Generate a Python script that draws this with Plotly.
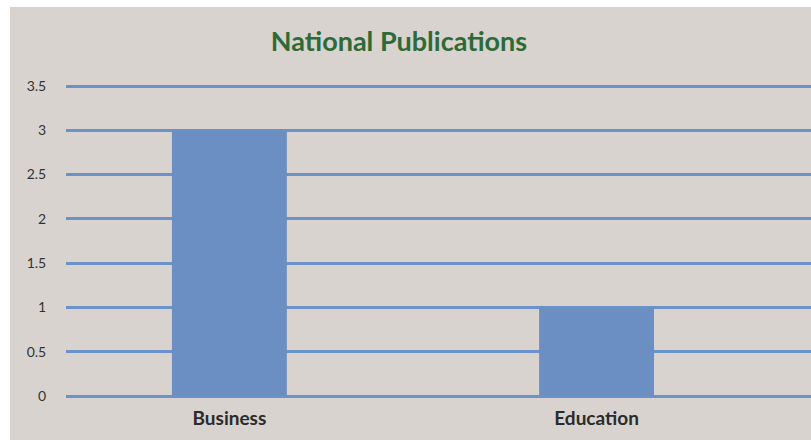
import plotly.graph_objects as go

categories = ["Business", "Education"]
values = [3, 1]
y_ticks = [0, 0.5, 1, 1.5, 2, 2.5, 3, 3.5]
y_tick_labels = ["0", "0.5", "1", "1.5", "2", "2.5", "3", "3.5"]

W, H = 811, 440
ML, MR, MT, MB = 66, 0, 82, 41
pw = W - ML - MR
ph = H - MT - MB

def px_x(p):
    return (p - ML) / pw

def px_y(p):
    return (H - MB - p) / ph

fig = go.Figure(
    go.Bar(
        x=categories,
        y=values,
        width=0.313,
        marker=dict(color="#6b8fc2", line=dict(width=0)),
        hoverinfo="x+y",
    )
)

fig.update_layout(
    width=W,
    height=H,
    margin=dict(l=ML, r=MR, t=MT, b=MB, pad=0),
    paper_bgcolor="white",
    plot_bgcolor="rgba(0,0,0,0)",
    showlegend=False,
    title=dict(
        text="<b>National Publications</b>",
        x=399 / W,
        xanchor="center",
        y=1 - 42 / H,
        yanchor="middle",
        font=dict(family="Lato", size=27, color="#2e6a36"),
    ),
    font=dict(family="Lato", color="#333333"),
    shapes=[
        dict(
            type="rect", xref="paper", yref="paper", layer="below",
            x0=px_x(10), x1=px_x(W + 5), y0=px_y(H + 5), y1=px_y(7),
            fillcolor="#d8d3cf", line=dict(width=0),
        )
    ],
)

fig.update_xaxes(
    type="category",
    range=[-0.445, 1.584],
    showgrid=False,
    showline=False,
    zeroline=False,
    ticks="outside",
    ticklen=2,
    tickcolor="rgba(0,0,0,0)",
    tickfont=dict(family="Lato", size=19, color="#2b2b2b"),
    tickvals=categories,
    ticktext=["<b>" + c + "</b>" for c in categories],
)

fig.update_yaxes(
    range=[-3 / 88.57, 3.5 + 4 / 88.57],
    tickvals=y_ticks,
    ticktext=y_tick_labels,
    showgrid=True,
    gridcolor="#6b93c9",
    gridwidth=3,
    zeroline=False,
    showline=False,
    ticks="outside",
    ticklen=16,
    tickcolor="rgba(0,0,0,0)",
    tickfont=dict(family="Lato", size=14, color="#333333"),
)

fig.write_html(
    "out.html",
    config={"displayModeBar": False},
    post_script="document.body.style.margin='0';document.body.style.overflow='hidden';",
)
